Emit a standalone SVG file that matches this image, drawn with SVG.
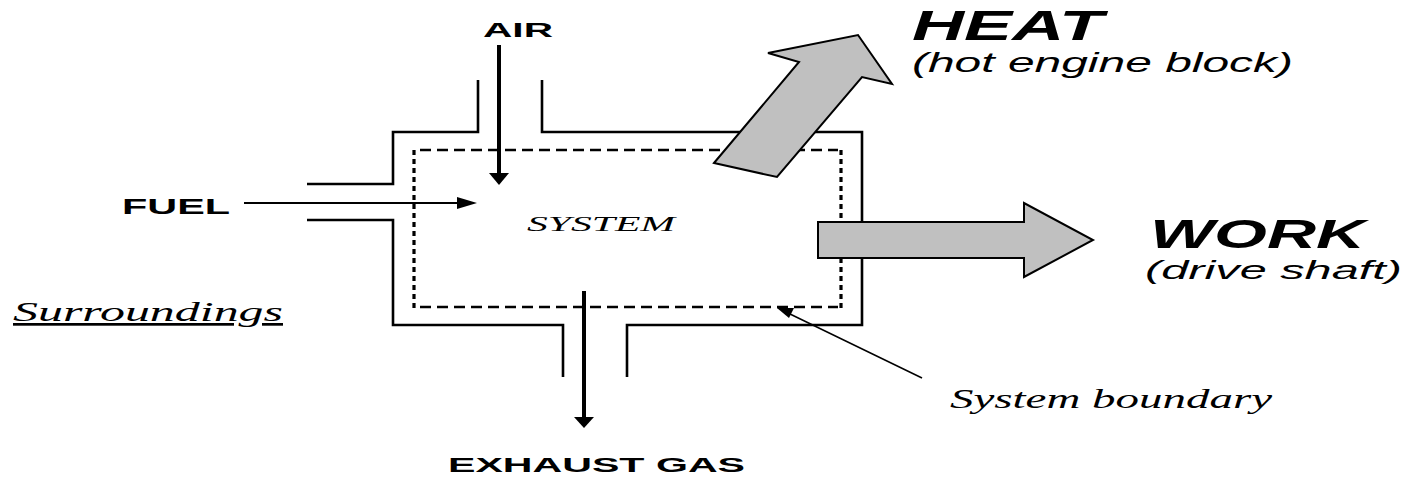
<svg xmlns="http://www.w3.org/2000/svg" width="1408" height="480" viewBox="0 0 1408 480">
<style>
.wall{fill:none;stroke:#000;stroke-width:2.6;stroke-linecap:butt;stroke-linejoin:miter}
.dashh{fill:none;stroke:#000;stroke-width:2.5;stroke-dasharray:11 6}
.dashv{fill:none;stroke:#000;stroke-width:3.2;stroke-dasharray:5 4}
.flow{fill:none;stroke:#000;stroke-width:4}
.thin{fill:none;stroke:#000;stroke-width:2}
.big{fill:#c0c0c0;stroke:#000;stroke-width:2;stroke-linejoin:miter}
.sans{font-family:"Liberation Sans",Arial,sans-serif;fill:#000}
.serif{font-family:"Liberation Serif","Times New Roman",serif;font-style:italic;fill:#000}
</style>
<rect width="1408" height="480" fill="#fff"/>
<g id="system">
  <path class="wall" d="M478,80 V132 H393 V184 H307"/>
  <path class="wall" d="M542,80 V132 H862 V325 H627 V377"/>
  <path class="wall" d="M307,220 H393 V325 H563 V377"/>
</g>
<g id="boundary">
  <path class="dashh" d="M420,150 H838"/>
  <path class="dashh" d="M420,307 H838"/>
  <path class="dashv" d="M414,150 V308"/>
  <path class="dashv" d="M841,150 V308"/>
</g>
<g id="connectors">
  <line class="flow" x1="499" y1="45" x2="499" y2="174"/>
  <polygon points="489,173 509,173 499,185" fill="#000"/>
  <line class="flow" x1="584" y1="291" x2="584" y2="418"/>
  <polygon points="574,417 594,417 584,428" fill="#000"/>
  <line class="thin" x1="244" y1="203" x2="460" y2="203"/>
  <polygon points="457,197 477,203 457,209" fill="#000"/>
  <line x1="922" y1="378" x2="790" y2="314" stroke="#000" stroke-width="1.6"/>
  <polygon points="777,308 794,308 789,318" fill="#000"/>
</g>
<g id="heat-arrow">
  <polygon class="big" points="714,163 777,177 862,77 892,84 858,35 768,53 799,62"/>
</g>
<g id="work-arrow">
  <polygon class="big" points="818,222 1024,222 1024,203 1093,240 1024,277 1024,258 818,258"/>
</g>
<g id="labels">
  <text class="sans" x="483" y="37" font-size="20" font-weight="bold" textLength="70" lengthAdjust="spacingAndGlyphs">AIR</text>
  <text class="sans" x="122" y="214" font-size="22" font-weight="bold" textLength="108" lengthAdjust="spacingAndGlyphs">FUEL</text>
  <text class="serif" x="527" y="231" font-size="20" textLength="148" lengthAdjust="spacingAndGlyphs">SYSTEM</text>
  <text class="serif" x="13" y="321" font-size="27" textLength="270" lengthAdjust="spacingAndGlyphs" text-decoration="underline">Surroundings</text>
  <text class="sans" x="448" y="472" font-size="21" font-weight="bold" textLength="297" lengthAdjust="spacingAndGlyphs">EXHAUST GAS</text>
  <text class="serif" x="950" y="408" font-size="28" textLength="322" lengthAdjust="spacingAndGlyphs">System boundary</text>
  <text class="sans" x="912" y="40" font-size="43" font-weight="bold" font-style="italic" textLength="191" lengthAdjust="spacingAndGlyphs">HEAT</text>
  <text class="sans" x="912" y="72" font-size="27" font-style="italic" textLength="381" lengthAdjust="spacingAndGlyphs">(hot engine block)</text>
  <text class="sans" x="1150" y="248" font-size="40" font-weight="bold" font-style="italic" textLength="215" lengthAdjust="spacingAndGlyphs">WORK</text>
  <text class="sans" x="1145" y="279" font-size="26" font-style="italic" textLength="257" lengthAdjust="spacingAndGlyphs">(drive shaft)</text>
</g>
</svg>
